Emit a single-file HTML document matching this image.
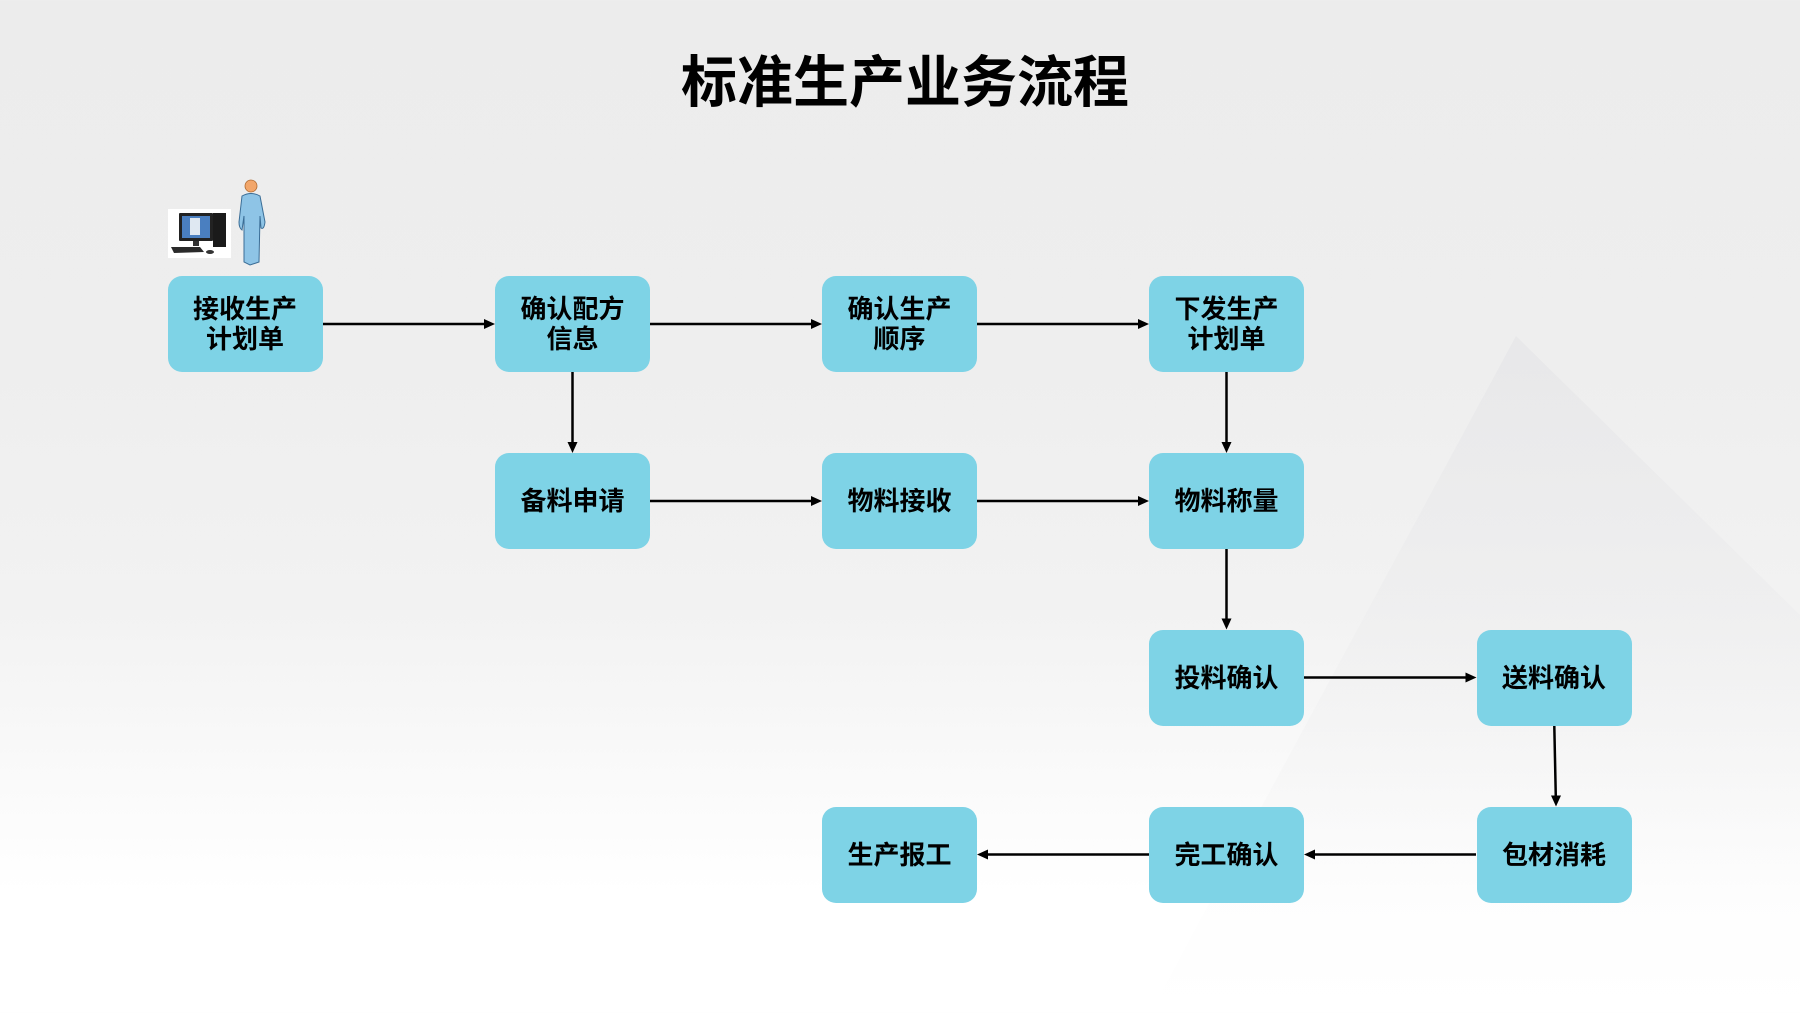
<!DOCTYPE html>
<html>
<head>
<meta charset="utf-8">
<style>
  html,body{margin:0;padding:0;}
  body{width:1800px;height:1013px;position:relative;overflow:hidden;
    font-family:"Liberation Sans","Noto Sans CJK SC",sans-serif;
    background:linear-gradient(180deg,#ececec 0%,#eeeeee 35%,#f2f2f2 60%,#f9f9f9 75%,#ffffff 88%,#ffffff 100%);}
  svg.bg{position:absolute;left:0;top:0;}
  .title{position:absolute;left:5px;width:1800px;top:46px;text-align:center;font-size:56px;font-weight:bold;
    line-height:74px;color:#000;letter-spacing:0;font-family:"Liberation Sans","Noto Sans CJK SC",sans-serif;}
  .box{position:absolute;width:155px;height:96px;background:#7ed3e6;border-radius:14px;
    display:flex;align-items:center;justify-content:center;text-align:center;
    font-size:26px;font-weight:bold;line-height:30px;color:#000;
    font-family:"Liberation Sans","Noto Sans CJK SC",sans-serif;}
</style>
</head>
<body>
<svg class="bg" width="1800" height="1013" viewBox="0 0 1800 1013">
  <defs>
    <linearGradient id="tri" x1="0" y1="0" x2="0" y2="1">
      <stop offset="0" stop-color="#e6e6e8" stop-opacity="0.8"/>
      <stop offset="1" stop-color="#f4f4f4" stop-opacity="0"/>
    </linearGradient>
  </defs>
  <polygon points="1516,336 1800,615 1800,1013 1150,1013" fill="url(#tri)"/>
  <!-- arrows -->
  <g stroke="#000" stroke-width="2.5" fill="none">
    <line x1="323" y1="324" x2="486" y2="324"/>
    <line x1="650" y1="324" x2="813" y2="324"/>
    <line x1="977" y1="324" x2="1140" y2="324"/>
    <line x1="572.5" y1="372" x2="572.5" y2="444"/>
    <line x1="1226.5" y1="372" x2="1226.5" y2="444"/>
    <line x1="650" y1="501" x2="813" y2="501"/>
    <line x1="977" y1="501" x2="1140" y2="501"/>
    <line x1="1226.5" y1="549" x2="1226.5" y2="620"/>
    <line x1="1304" y1="677.5" x2="1467" y2="677.5"/>
    <line x1="1554.3" y1="726" x2="1555.8" y2="797"/>
    <line x1="1476" y1="854.5" x2="1313" y2="854.5"/>
    <line x1="1149" y1="854.5" x2="986" y2="854.5"/>
  </g>
  <g fill="#000">
    <polygon points="495,324 484,319 484,329"/>
    <polygon points="822,324 811,319 811,329"/>
    <polygon points="1149,324 1138,319 1138,329"/>
    <polygon points="572.5,453 567.5,442 577.5,442"/>
    <polygon points="1226.5,453 1221.5,442 1231.5,442"/>
    <polygon points="822,501 811,496 811,506"/>
    <polygon points="1149,501 1138,496 1138,506"/>
    <polygon points="1226.5,629.5 1221.5,618.5 1231.5,618.5"/>
    <polygon points="1476.5,677.5 1465.5,672.5 1465.5,682.5"/>
    <polygon points="1556,806.5 1551,795.5 1561,795.5"/>
    <polygon points="1304,854.5 1315,849.5 1315,859.5"/>
    <polygon points="977,854.5 988,849.5 988,859.5"/>
  </g>
  <!-- computer icon -->
  <rect x="168" y="209" width="63" height="49" fill="#ffffff"/>
  <rect x="179" y="213" width="34" height="28" fill="#222" rx="1"/>
  <rect x="182" y="216" width="28" height="22" fill="#4a7fc0"/>
  <rect x="190" y="218" width="10" height="17" fill="#dfe8f2"/>
  <rect x="213" y="213" width="13" height="34" fill="#1a1a1a"/>
  <rect x="193" y="241" width="6" height="5" fill="#333"/>
  <polygon points="171,247 200,247 204,252 174,253" fill="#2a2a2a"/>
  <ellipse cx="210" cy="252" rx="4" ry="2" fill="#333"/>
  <!-- person icon -->
  <circle cx="251" cy="186" r="6" fill="#f2a66a" stroke="#b06a30" stroke-width="0.8"/>
  <path d="M242,196 Q251,191 260,196 L265,222 Q264,230 261,228 L260,216 L259,262 L250,265 L244,262 L244,216 L242,230 Q239,228 239,222 Z" fill="#8ec4e6" stroke="#3a6d96" stroke-width="1"/>
</svg>

<div class="title">标准生产业务流程</div>

<div class="box" style="left:167.5px;top:276px;">接收生产<br>计划单</div>
<div class="box" style="left:495px;top:276px;">确认配方<br>信息</div>
<div class="box" style="left:822px;top:276px;">确认生产<br>顺序</div>
<div class="box" style="left:1149px;top:276px;">下发生产<br>计划单</div>

<div class="box" style="left:495px;top:453px;">备料申请</div>
<div class="box" style="left:822px;top:453px;">物料接收</div>
<div class="box" style="left:1149px;top:453px;">物料称量</div>

<div class="box" style="left:1149px;top:629.5px;">投料确认</div>
<div class="box" style="left:1476.5px;top:629.5px;">送料确认</div>

<div class="box" style="left:822px;top:806.5px;">生产报工</div>
<div class="box" style="left:1149px;top:806.5px;">完工确认</div>
<div class="box" style="left:1476.5px;top:806.5px;">包材消耗</div>
</body>
</html>
